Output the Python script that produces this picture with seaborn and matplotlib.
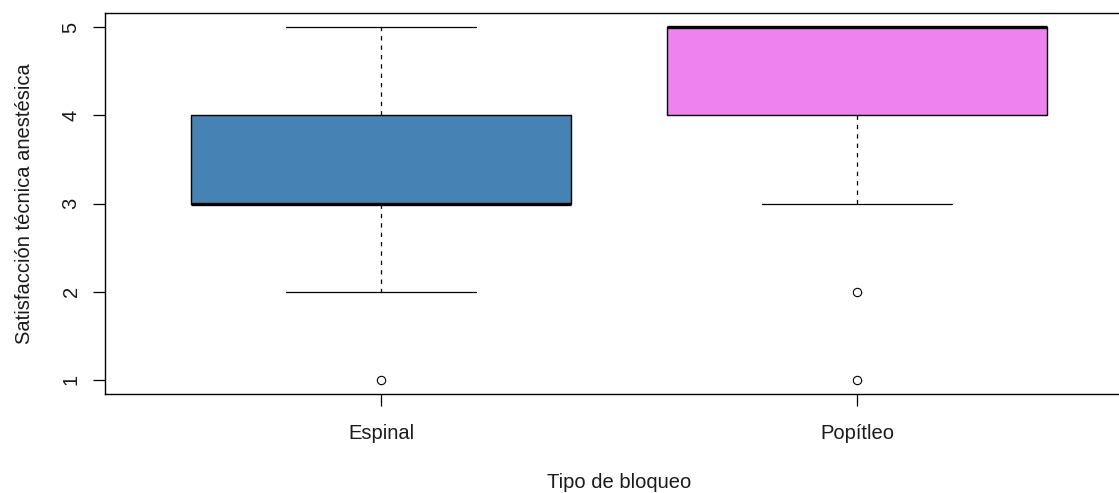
import numpy as np
import pandas as pd
import matplotlib
matplotlib.use("Agg")
import matplotlib.pyplot as plt
import seaborn as sns

# Likert scores (1-5) and how many patients gave each, per block type
scores = [1, 2, 3, 4, 5]
espinal_counts = [1, 3, 12, 8, 4]
popitleo_counts = [1, 1, 3, 8, 15]
groups = ["Espinal", "Popítleo"]
group_colors = ["#4682B4", "#EE82EE"]
y_ticks = [1, 2, 3, 4, 5]

df = pd.DataFrame({
    "bloqueo": np.repeat(groups, [sum(espinal_counts), sum(popitleo_counts)]),
    "satisfaccion": np.concatenate([
        np.repeat(scores, espinal_counts),
        np.repeat(scores, popitleo_counts),
    ]),
})

sns.set_style("white")
plt.rcParams["font.family"] = ["Liberation Sans", "DejaVu Sans"]

fig = plt.figure(figsize=(11.19, 4.93), dpi=100)
ax = fig.add_axes([0.0938, 0.2008, 0.9188, 0.7728])

sns.boxplot(
    data=df, x="bloqueo", y="satisfaccion", hue="bloqueo",
    palette=group_colors, legend=False, saturation=1, width=0.8,
    linecolor="black", linewidth=1.0, ax=ax,
    medianprops=dict(color="black", linewidth=2.4, solid_capstyle="butt"),
    whiskerprops=dict(color="black", linewidth=0.9, linestyle=(0, (3.5, 4))),
    capprops=dict(color="black", linewidth=0.9),
    flierprops=dict(marker="o", markersize=6, markerfacecolor="white",
                    markeredgecolor="black", markeredgewidth=0.8),
)

ax.set_xlim(-0.58, 1.58)
ax.set_ylim(0.84, 5.16)
ax.set_yticks(y_ticks)
ax.set_yticklabels([str(v) for v in y_ticks], rotation=90, va="center")

for side in ["left", "right", "top", "bottom"]:
    ax.spines[side].set_visible(True)
    ax.spines[side].set_color("black")
    ax.spines[side].set_linewidth(1.0)

ax.tick_params(axis="both", direction="out", length=8.5, width=0.9,
               color="black", labelsize=14.5, labelcolor="#1a1a1a",
               left=True, bottom=True)
ax.tick_params(axis="x", pad=13)
ax.tick_params(axis="y", pad=9)

ax.set_xlabel("Tipo de bloqueo", fontsize=14.5, color="#1a1a1a", labelpad=22)
ax.set_ylabel("Satisfacción técnica anestésica", fontsize=14.5,
              color="#1a1a1a", labelpad=20)

fig.savefig("out.png", dpi=100)
